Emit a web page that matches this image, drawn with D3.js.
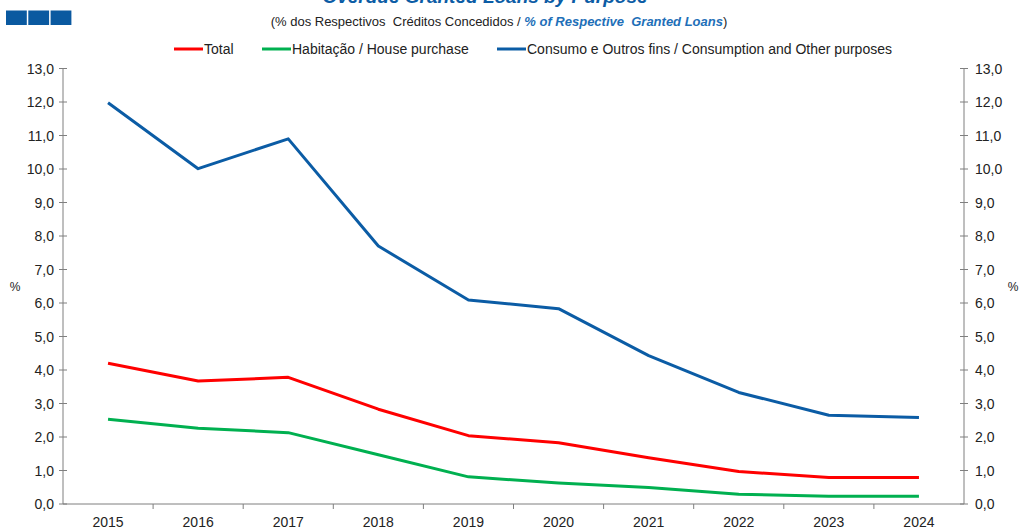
<!DOCTYPE html>
<html lang="en">
<head>
<meta charset="utf-8">
<title>Overdue Granted Loans by Purpose</title>
<script src="https://cdn.jsdelivr.net/npm/d3@7"></script>
<style>
  body { margin: 0; background: #fff; }
  text { font-family: "Liberation Sans", Arial, sans-serif; fill: #222; }
</style>
</head>
<body>
<script>
// data
var years = ["2015", "2016", "2017", "2018", "2019", "2020", "2021", "2022", "2023", "2024"];
var total = [4.2, 3.67, 3.78, 2.83, 2.04, 1.83, 1.38, 0.97, 0.79, 0.79];
var housing = [2.53, 2.26, 2.13, 1.47, 0.81, 0.63, 0.49, 0.29, 0.23, 0.23];
var consumption = [11.98, 10.01, 10.9, 7.7, 6.09, 5.83, 4.43, 3.33, 2.65, 2.58];
var yTicks = [0, 1, 2, 3, 4, 5, 6, 7, 8, 9, 10, 11, 12, 13];

var series = [
  {name: "Total", values: total, color: "#ff0000"},
  {name: "Habitação / House purchase", values: housing, color: "#00b050"},
  {name: "Consumo e Outros fins / Consumption and Other purposes", values: consumption, color: "#0b5ca5"}
];

var w = 1019, h = 527;
var pLeft = 63, pRight = 964, pTop = 68.5, pBottom = 504;
var axisColor = "#7f7f7f";

var svg = d3.select("body").append("svg")
  .attr("width", w)
  .attr("height", h);

var x = d3.scaleBand().domain(years).range([pLeft, pRight]);
var y = d3.scaleLinear().domain([0, 13]).range([pBottom, pTop]);
var fmt = function(d) { return d3.format(".1f")(d).replace(".", ","); };

// logo squares
svg.selectAll("rect.logo")
  .data([0, 1, 2])
  .enter()
  .append("rect")
  .attr("class", "logo")
  .attr("x", function(d) { return 6 + d * 22.3; })
  .attr("y", 10.5)
  .attr("width", 20.8)
  .attr("height", 14.5)
  .attr("fill", "#0a59a0");

// title, cut off at the top
svg.append("text")
  .attr("x", 485)
  .attr("y", 3)
  .attr("text-anchor", "middle")
  .style("font-size", "19px")
  .style("font-weight", "bold")
  .style("font-style", "italic")
  .style("fill", "#0b5ca5")
  .text("Overdue Granted Loans by Purpose");

var sub = svg.append("text")
  .attr("x", 499)
  .attr("y", 26)
  .attr("text-anchor", "middle")
  .style("font-size", "13px");
sub.append("tspan").text("(% dos Respectivos\u00a0\u00a0Créditos Concedidos / ");
sub.append("tspan")
  .style("font-weight", "bold")
  .style("font-style", "italic")
  .style("fill", "#1e6fb8")
  .text("% of Respective\u00a0\u00a0Granted Loans");
sub.append("tspan").text(")");

// legend
var legendX = [174, 262, 497];
var leg = svg.selectAll("g.legend")
  .data(series)
  .enter()
  .append("g")
  .attr("class", "legend")
  .attr("transform", function(d, i) { return "translate(" + legendX[i] + ",49)"; });
leg.append("line")
  .attr("x1", 0).attr("x2", 29)
  .attr("stroke", function(d) { return d.color; })
  .attr("stroke-width", 3);
leg.append("text")
  .attr("x", 30)
  .attr("y", 5)
  .style("font-size", "14px")
  .text(function(d) { return d.name; });

// left axis
var yLeft = svg.append("g").attr("transform", "translate(" + pLeft + ",0)");
yLeft.append("line").attr("y1", pTop).attr("y2", pBottom).attr("stroke", axisColor);
yLeft.selectAll("line.tick")
  .data(yTicks)
  .enter()
  .append("line")
  .attr("class", "tick")
  .attr("x1", -4).attr("x2", 4)
  .attr("y1", function(d) { return y(d); })
  .attr("y2", function(d) { return y(d); })
  .attr("stroke", axisColor);
yLeft.selectAll("text")
  .data(yTicks)
  .enter()
  .append("text")
  .attr("x", -9)
  .attr("y", function(d) { return y(d) + 5; })
  .attr("text-anchor", "end")
  .style("font-size", "14px")
  .text(fmt);

// right axis
var yRight = svg.append("g").attr("transform", "translate(" + pRight + ",0)");
yRight.append("line").attr("y1", pTop).attr("y2", pBottom).attr("stroke", axisColor);
yRight.selectAll("line.tick")
  .data(yTicks)
  .enter()
  .append("line")
  .attr("class", "tick")
  .attr("x1", -4).attr("x2", 4)
  .attr("y1", function(d) { return y(d); })
  .attr("y2", function(d) { return y(d); })
  .attr("stroke", axisColor);
yRight.selectAll("text")
  .data(yTicks)
  .enter()
  .append("text")
  .attr("x", 11)
  .attr("y", function(d) { return y(d) + 5; })
  .style("font-size", "14px")
  .text(fmt);

svg.append("text").attr("x", 15).attr("y", 291).attr("text-anchor", "middle")
  .style("font-size", "12px").text("%");
svg.append("text").attr("x", 1013).attr("y", 291).attr("text-anchor", "middle")
  .style("font-size", "12px").text("%");

// x axis with ticks between categories
var xAxis = svg.append("g");
xAxis.append("line")
  .attr("x1", pLeft).attr("x2", pRight)
  .attr("y1", pBottom).attr("y2", pBottom)
  .attr("stroke", axisColor);
xAxis.selectAll("line.tick")
  .data(years.slice(1))
  .enter()
  .append("line")
  .attr("class", "tick")
  .attr("x1", function(d) { return x(d); })
  .attr("x2", function(d) { return x(d); })
  .attr("y1", pBottom).attr("y2", pBottom + 5)
  .attr("stroke", axisColor);
xAxis.selectAll("text")
  .data(years)
  .enter()
  .append("text")
  .attr("x", function(d) { return x(d) + x.bandwidth() / 2; })
  .attr("y", 527)
  .attr("text-anchor", "middle")
  .style("font-size", "14px")
  .text(function(d) { return d; });

// lines
var line = d3.line()
  .x(function(d, i) { return x(years[i]) + x.bandwidth() / 2; })
  .y(function(d) { return y(d); });

svg.selectAll("path.series")
  .data(series)
  .enter()
  .append("path")
  .attr("class", "series")
  .attr("d", function(d) { return line(d.values); })
  .attr("fill", "none")
  .attr("stroke", function(d) { return d.color; })
  .attr("stroke-width", 3)
  .attr("stroke-linejoin", "round");
</script>
</body>
</html>
